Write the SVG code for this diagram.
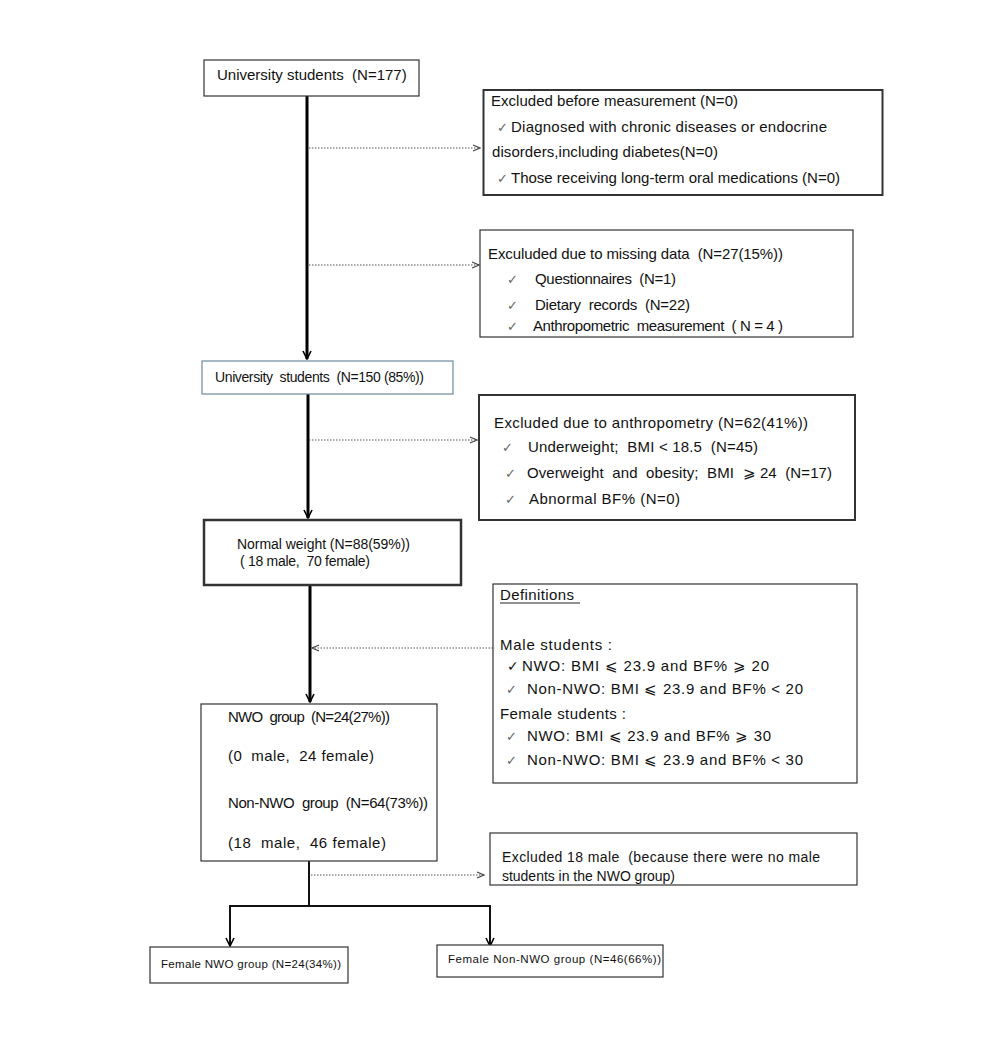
<svg xmlns="http://www.w3.org/2000/svg" width="986" height="1051" viewBox="0 0 986 1051">
<style>
text{font-family:"Liberation Sans",Arial,sans-serif;fill:#111;font-size:14px;white-space:pre}
.f15{font-size:15px}
.box{fill:#fff;stroke:#333;stroke-width:1.2}
.thick{stroke-width:2}
.main{stroke:#000;stroke-width:3;fill:none}
.sol{stroke:#111;stroke-width:2;fill:none}
.dot{stroke:#555;stroke-width:1.2;stroke-dasharray:1.5 1.5;fill:none}
.sm{font-size:11.5px}
.ck{fill:#666;font-size:13px}
</style>
<defs>
<marker id="ah" markerWidth="10" markerHeight="10" refX="9" refY="5" orient="auto" markerUnits="userSpaceOnUse">
<path d="M1,1 L9,5 L1,9" fill="none" stroke="#000" stroke-width="1.6"/>
</marker>
<marker id="ahd" markerWidth="10" markerHeight="10" refX="9" refY="5" orient="auto" markerUnits="userSpaceOnUse">
<path d="M2,2 L9,5 L2,8" fill="none" stroke="#444" stroke-width="1.2"/>
</marker>
</defs>
<g id="connectors">
<line class="main" x1="307" y1="96" x2="307" y2="359" marker-end="url(#ah)"/>
<line class="main" x1="308" y1="394" x2="308" y2="518" marker-end="url(#ah)"/>
<line class="main" x1="310" y1="585" x2="310" y2="702" marker-end="url(#ah)"/>
<line class="dot" x1="309" y1="148" x2="480" y2="148" marker-end="url(#ahd)"/>
<line class="dot" x1="309" y1="265" x2="479" y2="265" marker-end="url(#ahd)"/>
<line class="dot" x1="309" y1="440" x2="477" y2="440" marker-end="url(#ahd)"/>
<line class="dot" x1="493" y1="648" x2="312" y2="648" marker-end="url(#ahd)"/>
<line class="dot" x1="311" y1="875" x2="484" y2="875" marker-end="url(#ahd)"/>
<polyline class="sol" points="309,861 309,906"/>
<polyline class="sol" points="230,946 230,906 490,906 490,946"/>
<line class="sol" x1="230" y1="930" x2="230" y2="946" marker-end="url(#ah)"/>
<line class="sol" x1="490" y1="930" x2="490" y2="946" marker-end="url(#ah)"/>
</g>
<g id="n1">
<rect class="box" x="204" y="60" width="215" height="36"/>
<text x="217" y="80" class="f15">University students  (N=177)</text>
</g>
<g id="nA">
<rect class="box thick" x="483.5" y="90" width="399" height="105"/>
<text x="491" y="106" class="f15" textLength="247" lengthAdjust="spacing">Excluded before measurement (N=0)</text>
<text x="497" y="132" class="ck">✓</text>
<text x="511" y="132" class="f15" textLength="316" lengthAdjust="spacing">Diagnosed with chronic diseases or endocrine</text>
<text x="492" y="157" class="f15" textLength="226" lengthAdjust="spacing">disorders,including diabetes(N=0)</text>
<text x="497" y="183" class="ck">✓</text>
<text x="511" y="183" class="f15" textLength="329" lengthAdjust="spacing">Those receiving long-term oral medications (N=0)</text>
</g>
<g id="nB">
<rect class="box" x="480" y="230" width="373" height="107"/>
<text x="488" y="259" class="f15" textLength="295" lengthAdjust="spacing">Exculuded due to missing data  (N=27(15%))</text>
<text x="507" y="284" class="ck">✓</text>
<text x="535" y="284" class="f15" textLength="141" lengthAdjust="spacing">Questionnaires  (N=1)</text>
<text x="507" y="310" class="ck">✓</text>
<text x="535" y="310" class="f15" textLength="155" lengthAdjust="spacing">Dietary  records  (N=22)</text>
<text x="507" y="331" class="ck">✓</text>
<text x="533" y="331" class="f15" textLength="250" lengthAdjust="spacing">Anthropometric  measurement  ( N = 4 )</text>
</g>
<g id="n2">
<rect class="box" x="202" y="361" width="251" height="33" style="stroke:#6f8aa0"/>
<text x="215" y="382" textLength="209" lengthAdjust="spacing">University  students  (N=150 (85%))</text>
</g>
<g id="nC">
<rect class="box thick" x="479" y="395" width="376" height="125"/>
<text x="494" y="428" class="f15" textLength="314" lengthAdjust="spacing">Excluded due to anthropometry (N=62(41%))</text>
<text x="502" y="452" class="ck">✓</text>
<text x="528" y="452" class="f15" textLength="230" lengthAdjust="spacing">Underweight;  BMI &lt; 18.5  (N=45)</text>
<text x="505" y="478" class="ck">✓</text>
<text x="527" y="478" class="f15" textLength="305" lengthAdjust="spacing">Overweight  and  obesity;  BMI  ⩾ 24  (N=17)</text>
<text x="505" y="504" class="ck">✓</text>
<text x="529" y="504" class="f15" textLength="151" lengthAdjust="spacing">Abnormal BF% (N=0)</text>
</g>
<g id="n3">
<rect class="box" x="204" y="520" width="257" height="65" style="stroke-width:2.5"/>
<text x="237" y="549" textLength="173" lengthAdjust="spacing">Normal weight (N=88(59%))</text>
<text x="240" y="566" textLength="130" lengthAdjust="spacing">( 18 male,  70 female)</text>
</g>
<g id="nD">
<rect class="box" x="493" y="584" width="364" height="199"/>
<text x="500" y="600" class="f15" textLength="74" lengthAdjust="spacing">Definitions</text>
<line x1="500" y1="603" x2="580" y2="603" stroke="#222" stroke-width="1"/>
<text x="500" y="650" class="f15" textLength="112" lengthAdjust="spacing">Male students :</text>
<text x="507" y="671" style="font-size:14px">✓</text>
<text x="522" y="671" class="f15" textLength="247" lengthAdjust="spacing">NWO: BMI ⩽ 23.9 and BF% ⩾ 20</text>
<text x="506" y="694" class="ck">✓</text>
<text x="527" y="694" class="f15" textLength="276" lengthAdjust="spacing">Non-NWO: BMI ⩽ 23.9 and BF% &lt; 20</text>
<text x="500" y="719" class="f15" textLength="126" lengthAdjust="spacing">Female students :</text>
<text x="506" y="741" class="ck">✓</text>
<text x="527" y="741" class="f15" textLength="244" lengthAdjust="spacing">NWO: BMI ⩽ 23.9 and BF% ⩾ 30</text>
<text x="506" y="765" class="ck">✓</text>
<text x="527" y="765" class="f15" textLength="276" lengthAdjust="spacing">Non-NWO: BMI ⩽ 23.9 and BF% &lt; 30</text>
</g>
<g id="n4">
<rect class="box" x="201" y="704" width="236" height="157"/>
<text x="228" y="722" class="f15" textLength="162" lengthAdjust="spacing">NWO  group  (N=24(27%))</text>
<text x="228" y="761" class="f15" textLength="146" lengthAdjust="spacing">(0  male,  24 female)</text>
<text x="228" y="808" class="f15" textLength="200" lengthAdjust="spacing">Non-NWO  group  (N=64(73%))</text>
<text x="228" y="848" class="f15" textLength="158" lengthAdjust="spacing">(18  male,  46 female)</text>
</g>
<g id="nE">
<rect class="box" x="490" y="833" width="367" height="52"/>
<text x="502" y="862" textLength="318" lengthAdjust="spacing">Excluded 18 male  (because there were no male</text>
<text x="502" y="881" textLength="173" lengthAdjust="spacing">students in the NWO group)</text>
</g>
<g id="n5">
<rect class="box" x="150" y="947" width="198" height="36"/>
<text x="161" y="968" class="sm" textLength="180" lengthAdjust="spacing">Female NWO group (N=24(34%))</text>
</g>
<g id="n6">
<rect class="box" x="437" y="945" width="226" height="32"/>
<text x="448" y="963" class="sm" textLength="213" lengthAdjust="spacing">Female Non-NWO group (N=46(66%))</text>
</g>
</svg>
